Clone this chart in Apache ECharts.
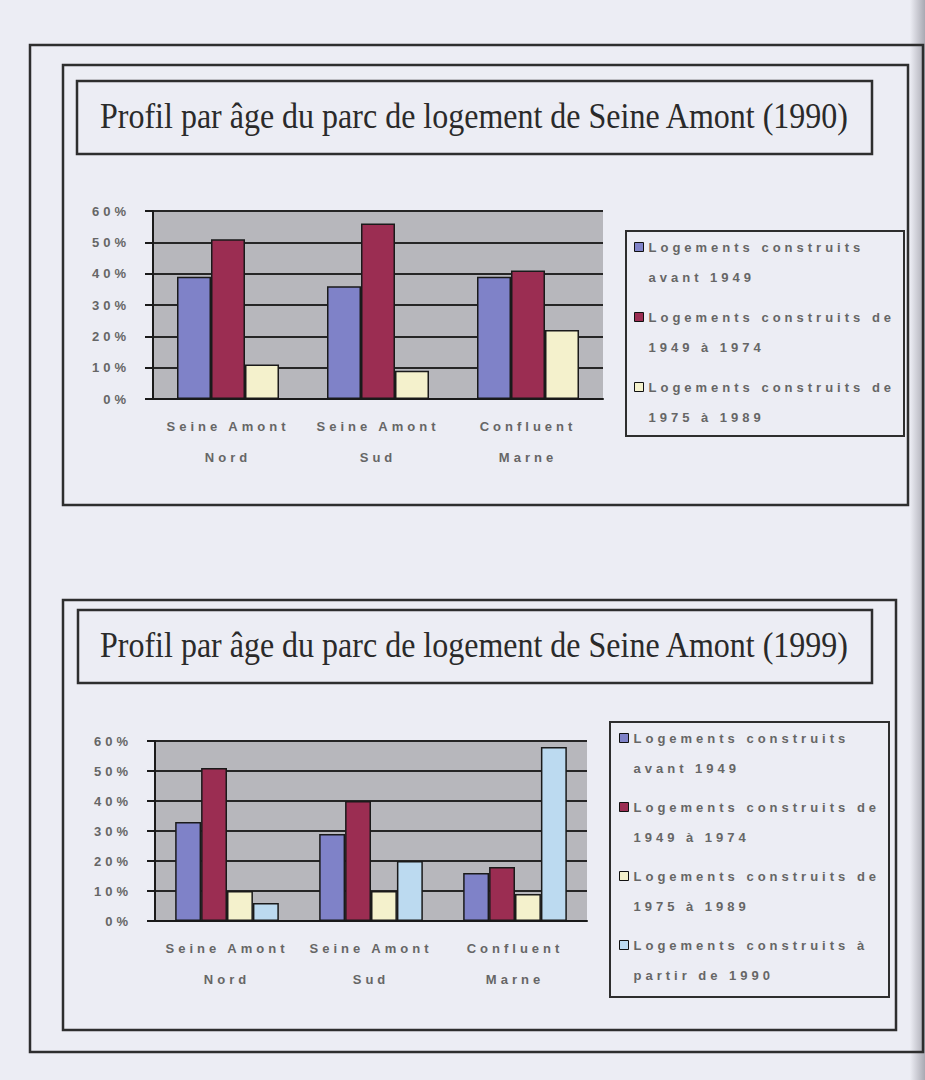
<!DOCTYPE html>
<html>
<head>
<meta charset="utf-8">
<style>
  html, body { margin: 0; padding: 0; background: #ecedf4; }
  #chart { width: 925px; height: 1080px; }
  /* espacement des lettres façon Excel scanné, sauf pour les titres */
  #chart text { letter-spacing: 4px; }
  #chart text[style*="Serif"] { letter-spacing: 0; }
</style>
</head>
<body>
<div id="chart"></div>
<script src="https://cdn.jsdelivr.net/npm/echarts@6/dist/echarts.min.js"></script>
<script>
// données (en %)
var categories = ['Seine Amont\nNord', 'Seine Amont\nSud', 'Confluent\nMarne'];
var yTicks = [0, 10, 20, 30, 40, 50, 60];

var names = [
  'Logements construits\navant 1949',
  'Logements construits de\n1949 à 1974',
  'Logements construits de\n1975 à 1989',
  'Logements construits à\npartir de 1990'
];

var avant1949_1990 = [39, 36, 39];
var de1949a1974_1990 = [51, 56, 41];
var de1975a1989_1990 = [11, 9, 22];

var avant1949_1999 = [33, 29, 16];
var de1949a1974_1999 = [51, 40, 18];
var de1975a1989_1999 = [10, 10, 9];
var apartir1990_1999 = [6, 20, 58];

var titles = [
  'Profil par âge du parc de logement de Seine Amont (1990)',
  'Profil par âge du parc de logement de Seine Amont (1999)'
];

var colors = ['#7f82c8', '#9b2d52', '#f4f1cc', '#bcdaf0'];
var sansFont = 'Liberation Sans';
var txtColor = '#666';

var myChart = echarts.init(document.getElementById('chart'), null, { renderer: 'svg' });

function xAxis(gridIndex) {
  return {
    type: 'category', gridIndex: gridIndex, data: categories,
    axisLine: { lineStyle: { color: '#1a1a1a', width: 2 } },
    axisTick: { length: 6, lineStyle: { color: '#1a1a1a', width: 2 } },
    axisLabel: { color: txtColor, fontFamily: sansFont, fontWeight: 'bold', fontSize: 13, lineHeight: 31, margin: 12 }
  };
}
function yAxis(gridIndex) {
  return {
    type: 'value', gridIndex: gridIndex, min: yTicks[0], max: yTicks[yTicks.length - 1], interval: 10,
    axisLine: { show: true, lineStyle: { color: '#1a1a1a', width: 2 } },
    axisTick: { show: true, length: 8, lineStyle: { color: '#1a1a1a', width: 2 } },
    axisLabel: { color: txtColor, fontFamily: sansFont, fontWeight: 'bold', fontSize: 13, margin: 23, formatter: '{value}%' },
    splitLine: { lineStyle: { color: '#262626', width: 2 } }
  };
}
function bar(name, data, color, idx, gap) {
  return {
    type: 'bar', name: name, data: data, xAxisIndex: idx, yAxisIndex: idx,
    barGap: 0, barCategoryGap: gap,
    itemStyle: { color: color, borderColor: '#1a1a1a', borderWidth: 1.5 },
    emphasis: { disabled: true }
  };
}
function legend(top, left, data, gap) {
  return {
    orient: 'vertical', top: top, left: left, padding: 0, itemGap: gap,
    icon: 'rect', itemWidth: 9, itemHeight: 9, data: data,
    itemStyle: { borderColor: '#111', borderWidth: 1 },
    // ligne vide devant : le carré reste au niveau de la 1re ligne
    formatter: function (name) { return '\n' + name; },
    textStyle: { color: txtColor, fontFamily: sansFont, fontWeight: 'bold', fontSize: 13, lineHeight: 30 },
    selectedMode: false
  };
}
function frame(x1, y1, x2, y2, w) {
  return {
    type: 'rect', silent: true,
    shape: { x: x1, y: y1, width: x2 - x1, height: y2 - y1 },
    style: { fill: 'none', stroke: '#2e2e2e', lineWidth: w || 2.5 }
  };
}
function titleText(text, x, y) {
  return {
    type: 'text', x: x, y: y, scaleY: 1.1, silent: true,
    style: { text: text, fill: '#2a2a2a', font: '32px "Liberation Serif"', align: 'center', verticalAlign: 'middle' }
  };
}

myChart.setOption({
  animation: false,
  backgroundColor: '#ecedf4',
  grid: [
    { left: 153, right: 322, top: 211, bottom: 681, show: true, backgroundColor: '#b7b7bc', borderWidth: 0 },
    { left: 155, right: 338, top: 741, bottom: 159, show: true, backgroundColor: '#b7b7bc', borderWidth: 0 }
  ],
  xAxis: [xAxis(0), xAxis(1)],
  yAxis: [yAxis(0), yAxis(1)],
  legend: [
    legend(202, 634, names.slice(0, 3), -20),
    legend(693, 619, names.slice(0, 4), -21)
  ],
  series: [
    bar(names[0], avant1949_1990, colors[0], 0, '32%'),
    bar(names[1], de1949a1974_1990, colors[1], 0, '32%'),
    bar(names[2], de1975a1989_1990, colors[2], 0, '32%'),
    bar(names[0], avant1949_1999, colors[0], 1, '28%'),
    bar(names[1], de1949a1974_1999, colors[1], 1, '28%'),
    bar(names[2], de1975a1989_1999, colors[2], 1, '28%'),
    bar(names[3], apartir1990_1999, colors[3], 1, '28%')
  ],
  graphic: [
    // bord de page scanné
    {
      type: 'rect', silent: true, shape: { x: 910, y: 0, width: 15, height: 1080 },
      style: { fill: new echarts.graphic.LinearGradient(0, 0, 1, 0, [
        { offset: 0, color: '#ecedf4' }, { offset: 1, color: '#a9a9b2' }]) }
    },
    frame(30, 45, 923, 1052),
    frame(63, 65, 908, 505),
    frame(63, 600, 896, 1030),
    frame(77, 81, 872, 154),
    frame(78, 610, 872, 683),
    frame(626, 231, 904, 436, 2),
    frame(610, 722, 889, 997, 2),
    titleText(titles[0], 474, 116),
    titleText(titles[1], 474, 645)
  ]
});
</script>
</body>
</html>
